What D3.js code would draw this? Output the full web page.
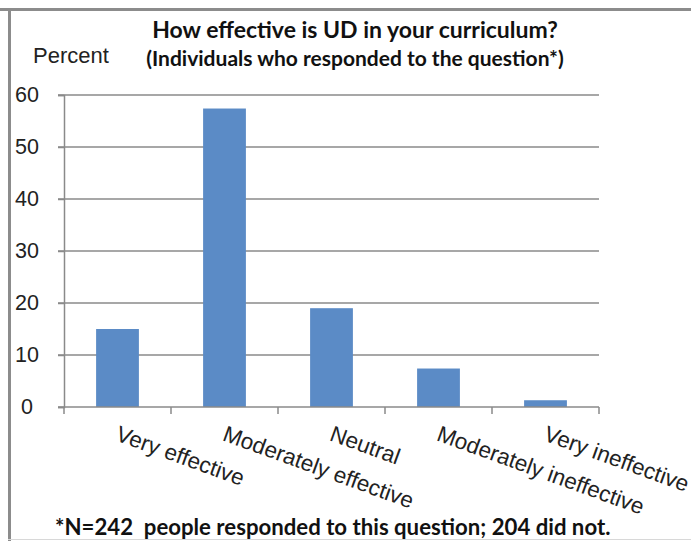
<!DOCTYPE html>
<html>
<head>
<meta charset="utf-8">
<title>UD effectiveness</title>
<script src="https://d3js.org/d3.v7.min.js"></script>
<style>
  body { margin: 0; background: #fff; }
  svg { display: block; }
  .plain { font-family: "Liberation Sans", Arial, sans-serif; fill: #222; }
  .bold { font-family: Lato, Calibri, "Open Sans", sans-serif; font-weight: bold; fill: #111; }
</style>
</head>
<body>
<svg width="691" height="541"></svg>
<script>
const categories = ["Very effective", "Moderately effective", "Neutral", "Moderately ineffective", "Very ineffective"];
const percents = [15, 57.4, 19, 7.4, 1.3];
const yTicks = [0, 10, 20, 30, 40, 50, 60];

const svg = d3.select("svg");

// frame of the original screenshot
svg.append("line").attr("x1", 0).attr("x2", 691).attr("y1", 9.5).attr("y2", 9.5)
  .attr("stroke", "#8c8c8c").attr("stroke-width", 3);
svg.append("line").attr("x1", 9.5).attr("x2", 9.5).attr("y1", 8).attr("y2", 541)
  .attr("stroke", "#8c8c8c").attr("stroke-width", 3);
svg.append("line").attr("x1", 8).attr("x2", 691).attr("y1", 539.5).attr("y2", 539.5)
  .attr("stroke", "#d8d8d8").attr("stroke-width", 1);

const plotL = 64, plotR = 599, plotT = 95, plotB = 407;

const x = d3.scaleBand().domain(categories).range([plotL, plotR]).paddingInner(0).paddingOuter(0);
const y = d3.scaleLinear().domain([0, 60]).range([plotB, plotT]);

// grid lines
svg.append("g").selectAll("line").data(yTicks.filter(d => d > 0)).enter().append("line")
  .attr("x1", plotL - 6).attr("x2", plotR)
  .attr("y1", d => y(d)).attr("y2", d => y(d))
  .attr("stroke", "#8a8a8a").attr("stroke-width", 1.5);

// bars
const barW = x.bandwidth() * 0.4;
svg.append("g").selectAll("rect").data(percents).enter().append("rect")
  .attr("x", (d, i) => x(categories[i]) + (x.bandwidth() - barW) / 2)
  .attr("y", d => y(d))
  .attr("width", barW)
  .attr("height", d => y(0) - y(d))
  .attr("fill", "#5b8bc6");

// y axis
const yAxis = svg.append("g").attr("transform", `translate(${plotL},0)`)
  .call(d3.axisLeft(y).tickValues(yTicks).tickSize(6).tickPadding(6));
yAxis.selectAll("path, line").attr("stroke", "#8a8a8a").attr("stroke-width", 1.5);
yAxis.attr("font-family", null).attr("font-size", null);
yAxis.selectAll("text").attr("class", "plain").attr("font-size", 21.5)
  .attr("text-anchor", "middle").attr("x", 27 - plotL);

// x axis
const xAxis = svg.append("g").attr("transform", `translate(0,${plotB})`)
  .call(d3.axisBottom(x).tickSize(0).tickFormat(""));
xAxis.select("path").attr("d", `M${plotL - 6},0H${plotR}`).attr("stroke", "#8a8a8a").attr("stroke-width", 1.5);
xAxis.selectAll(".tick").remove();
xAxis.selectAll("line.sep").data(categories.concat([null])).enter().append("line")
  .attr("class", "sep")
  .attr("x1", (d, i) => i < categories.length ? x(d) : plotR)
  .attr("x2", (d, i) => i < categories.length ? x(d) : plotR)
  .attr("y1", 0).attr("y2", 7)
  .attr("stroke", "#8a8a8a").attr("stroke-width", 1.5);

// rotated category labels
svg.append("g").selectAll("text").data(categories).enter().append("text")
  .attr("class", "plain")
  .attr("font-size", 22.5)
  .attr("transform", d => `translate(${x(d) + x.bandwidth() / 2 - 3},${plotB + 33}) rotate(20)`)
  .text(d => d);

// titles
svg.append("text").attr("class", "bold").attr("x", 355).attr("y", 38)
  .attr("text-anchor", "middle").attr("font-size", 23)
  .text("How effective is UD in your curriculum?");
svg.append("text").attr("class", "bold").attr("x", 355).attr("y", 66)
  .attr("text-anchor", "middle").attr("font-size", 21)
  .text("(Individuals who responded to the question*)");
svg.append("text").attr("class", "plain").attr("x", 33).attr("y", 62.5)
  .attr("font-size", 22).text("Percent");

svg.append("text").attr("class", "bold").attr("x", 55).attr("y", 535)
  .attr("font-size", 22.2).attr("xml:space", "preserve")
  .text("*N=242  people responded to this question; 204 did not.");
</script>
</body>
</html>
